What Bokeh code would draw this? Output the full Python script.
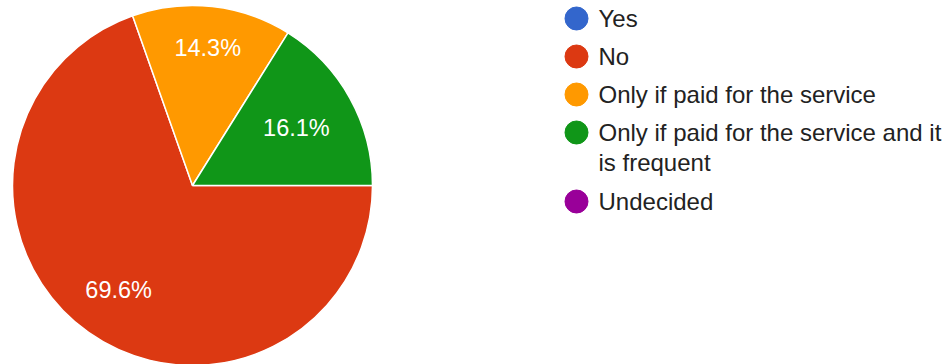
import math
from bokeh.plotting import figure
from bokeh.models import Range1d, ColumnDataSource
from bokeh.core.properties import value
from bokeh.embed import file_html
from bokeh.resources import INLINE

categories = ["Yes", "No", "Only if paid for the service",
              "Only if paid for the service and it is frequent", "Undecided"]
legend_lines = [["Yes"], ["No"], ["Only if paid for the service"],
                ["Only if paid for the service and it", "is frequent"], ["Undecided"]]
percents = [0.0, 69.6, 14.3, 16.1, 0.0]
colors = ["#3366cc", "#dc3912", "#ff9900", "#109618", "#990099"]
label_radius_frac = [0.7, 0.71, 0.77, 0.66, 0.7]

W, H = 946, 364
p = figure(width=W, height=H, output_backend="svg", toolbar_location=None,
           x_range=Range1d(0, W), y_range=Range1d(0, H), min_border=0)
p.axis.visible = False
p.grid.visible = False
p.outline_line_color = None

cx, cy, R = 192, H - 185, 180
total = sum(percents)
starts, ends, cols, lx, ly, lt = [], [], [], [], [], []
cum = 0.0
for i, v in enumerate(percents):
    if v <= 0:
        continue
    a_end = -cum / total * 2 * math.pi
    cum += v
    a_start = -cum / total * 2 * math.pi
    starts.append(a_start)
    ends.append(a_end)
    cols.append(colors[i])
    mid = (a_start + a_end) / 2
    r = R * label_radius_frac[i]
    lx.append(cx + r * math.cos(mid))
    ly.append(cy + r * math.sin(mid))
    lt.append(f"{v:.1f}%")

src = ColumnDataSource(dict(s=starts, e=ends, c=cols))
p.wedge(x=cx, y=cy, radius=R, start_angle="s", end_angle="e", fill_color="c",
        line_color="white", line_width=1.5, direction="anticlock", source=src)
p.text(x=lx, y=ly, text=lt, text_color="white", text_font=value("Liberation Sans"),
       text_font_size="23.5px", text_align="center", text_baseline="middle")

# legend
lg_x, lg_tx = 576, 598
row_y = [H - 18, H - 56, H - 94, H - 132, H - 201]
line2_dy = 30
p.scatter(x=[lg_x] * 5, y=row_y, size=23, color=colors, marker="circle")
tx, ty, tt = [], [], []
for i, lines in enumerate(legend_lines):
    for j, t in enumerate(lines):
        tx.append(lg_tx)
        ty.append(row_y[i] - j * line2_dy)
        tt.append(t)
p.text(x=tx, y=ty, text=tt, text_color="#222222", text_font=value("Liberation Sans"),
       text_font_size="24px", text_align="left", text_baseline="middle")

open("out.html", "w").write(file_html(p, INLINE))
